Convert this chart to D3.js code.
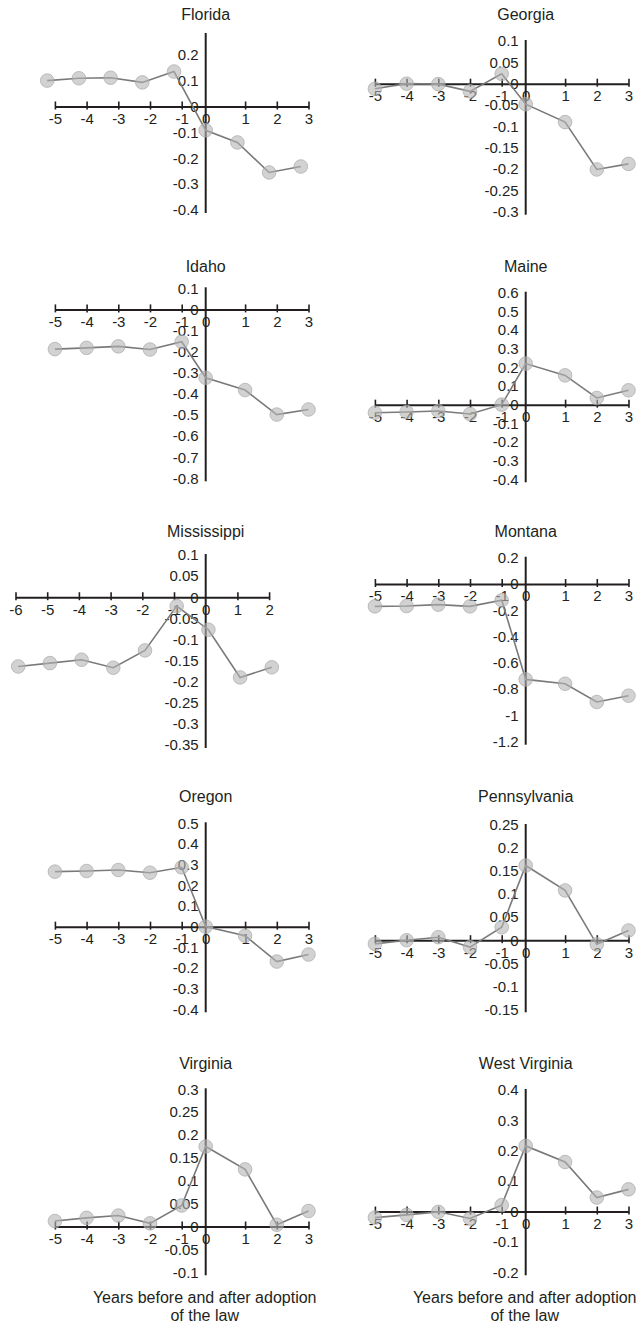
<!DOCTYPE html>
<html>
<head>
<meta charset="utf-8">
<script src="https://cdn.jsdelivr.net/npm/d3@7"></script>
<style>
  html, body { margin: 0; padding: 0; background: #ffffff; }
  svg { display: block; }
  text { font-family: "Liberation Sans", Arial, Helvetica, sans-serif; fill: #231f20; }
</style>
</head>
<body>
<script>
// ---------------- data ----------------
const states = ["Florida", "Georgia", "Idaho", "Maine", "Mississippi",
                "Montana", "Oregon", "Pennsylvania", "Virginia", "West Virginia"];

const yearsStandard = [-5, -4, -3, -2, -1, 0, 1, 2, 3];
const yearsMississippi = [-6, -5, -4, -3, -2, -1, 0, 1, 2];

const florida      = [0.100, 0.109, 0.111, 0.093, 0.135, -0.092, -0.139, -0.255, -0.232];
const georgia      = [-0.012, 0.000, -0.001, -0.018, 0.023, -0.048, -0.090, -0.201, -0.188];
const idaho        = [-0.188, -0.182, -0.175, -0.190, -0.153, -0.324, -0.382, -0.498, -0.474];
const maine        = [-0.043, -0.039, -0.034, -0.050, 0.000, 0.220, 0.157, 0.036, 0.077];
const mississippi  = [-0.164, -0.156, -0.148, -0.167, -0.126, -0.021, -0.077, -0.190, -0.166];
const montana      = [-0.170, -0.168, -0.157, -0.170, -0.124, -0.726, -0.759, -0.898, -0.850];
const oregon       = [0.266, 0.269, 0.274, 0.261, 0.287, 0.000, -0.044, -0.169, -0.135];
const pennsylvania = [-0.008, 0.000, 0.0065, -0.015, 0.028, 0.162, 0.108, -0.009, 0.021];
const virginia     = [0.012, 0.019, 0.024, 0.007, 0.046, 0.175, 0.125, 0.004, 0.034];
const westVirginia = [-0.020, -0.011, -0.001, -0.023, 0.021, 0.216, 0.163, 0.046, 0.073];

const floridaTicks      = [0.2, 0.1, 0, -0.1, -0.2, -0.3, -0.4];
const georgiaTicks      = [0.1, 0.05, 0, -0.05, -0.1, -0.15, -0.2, -0.25, -0.3];
const idahoTicks        = [0.1, 0, -0.1, -0.2, -0.3, -0.4, -0.5, -0.6, -0.7, -0.8];
const maineTicks        = [0.6, 0.5, 0.4, 0.3, 0.2, 0.1, 0, -0.1, -0.2, -0.3, -0.4];
const mississippiTicks  = [0.1, 0.05, 0, -0.05, -0.1, -0.15, -0.2, -0.25, -0.3, -0.35];
const montanaTicks      = [0.2, 0, -0.2, -0.4, -0.6, -0.8, -1, -1.2];
const oregonTicks       = [0.5, 0.4, 0.3, 0.2, 0.1, 0, -0.1, -0.2, -0.3, -0.4];
const pennsylvaniaTicks = [0.25, 0.2, 0.15, 0.1, 0.05, 0, -0.05, -0.1, -0.15];
const virginiaTicks     = [0.3, 0.25, 0.2, 0.15, 0.1, 0.05, 0, -0.05, -0.1];
const westVirginiaTicks = [0.4, 0.3, 0.2, 0.1, 0, -0.1, -0.2];

// top of each vertical axis (value); Florida's axis runs a little above its last label
const yTopValues = [0.28, 0.1, 0.1, 0.6, 0.1, 0.2, 0.5, 0.25, 0.3, 0.4];

const xAxisTitle = ["Years before and after adoption", "of the law"];

// ---------------- layout (pixels) ----------------
const W = 640, H = 1325;
const axisXByCol = [205.7, 525.7];
const unit = 31.7;
const plotTop    = [34, 41, 288.3, 292.7, 555, 557.7, 823.3, 825, 1089.3, 1090];
const plotBottom = [210, 211.7, 478.3, 479.3, 745, 741.7, 1009.3, 1009.3, 1272.3, 1272.3];
const titleBaseline = [20, 272.3, 537.3, 802.3, 1069.3];
// how the markers sit against the tick grid in the original figure
const markerUniformGrid = [true, false, false, false, true, false, false, false, false, false];
const markerNudge = [0, 0, 0, 0, 2.7, 0, 0, 0, 0, 0];
const ink = "#231f20";

const panels = [
  { name: states[0], years: yearsStandard,    values: florida,      ticks: floridaTicks },
  { name: states[1], years: yearsStandard,    values: georgia,      ticks: georgiaTicks },
  { name: states[2], years: yearsStandard,    values: idaho,        ticks: idahoTicks },
  { name: states[3], years: yearsStandard,    values: maine,        ticks: maineTicks },
  { name: states[4], years: yearsMississippi, values: mississippi,  ticks: mississippiTicks },
  { name: states[5], years: yearsStandard,    values: montana,      ticks: montanaTicks },
  { name: states[6], years: yearsStandard,    values: oregon,       ticks: oregonTicks },
  { name: states[7], years: yearsStandard,    values: pennsylvania, ticks: pennsylvaniaTicks },
  { name: states[8], years: yearsStandard,    values: virginia,     ticks: virginiaTicks },
  { name: states[9], years: yearsStandard,    values: westVirginia, ticks: westVirginiaTicks }
];

const svg = d3.select("body").append("svg")
  .attr("width", W).attr("height", H)
  .attr("viewBox", `0 0 ${W} ${H}`);

panels.forEach((p, i) => {
  const col = i % 2, row = Math.floor(i / 2);
  const ax = axisXByCol[col];
  const first = p.years[0], last = p.years[p.years.length - 1];
  // in the standard panels the vertical axis sits a little left of the uniform "0" position
  const shift = first === -6 ? 0 : 7.7;

  const x = d3.scaleLinear()
    .domain([first, -1, 0, 1, last])
    .range([ax + shift + first * unit, ax + shift - unit, ax, ax + shift + unit, ax + shift + last * unit]);

  const xm = markerUniformGrid[i]
    ? d3.scaleLinear().domain([first, last]).range([ax + first * unit + markerNudge[i], ax + last * unit + markerNudge[i]])
    : x;

  const yMin = d3.min(p.ticks);
  const yMax = yTopValues[i];
  const y = d3.scaleLinear().domain([yMin, yMax]).range([plotBottom[i], plotTop[i]]);

  const g = svg.append("g").attr("class", "panel");

  // title
  g.append("text")
    .attr("x", ax).attr("y", titleBaseline[row])
    .attr("text-anchor", "middle")
    .style("font-size", "16px")
    .text(p.name);

  // vertical axis
  const yAxis = d3.axisLeft(y).tickValues(p.ticks).tickSize(0).tickPadding(7)
    .tickFormat(d => String(+d.toFixed(2)));
  const gy = g.append("g").attr("transform", `translate(${ax},0)`).call(yAxis);
  gy.select(".domain").remove();
  gy.selectAll("text")
    .attr("fill", ink)
    .style("font-size", "15px")
    .style("font-family", "'Liberation Sans', Arial, sans-serif");
  g.append("line")
    .attr("x1", ax).attr("x2", ax)
    .attr("y1", y(yMax) - 1).attr("y2", y(yMin) + 3)
    .attr("stroke", ink).attr("stroke-width", 2);

  // horizontal axis at y = 0
  const y0 = y(0);
  const xAxis = d3.axisBottom(x).tickValues(p.years).tickSizeOuter(0).tickSizeInner(0)
    .tickFormat(d => String(d));
  const gx = g.append("g").attr("transform", `translate(0,${y0})`).call(xAxis);
  gx.select(".domain").attr("stroke", ink).attr("stroke-width", 2);
  gx.selectAll(".tick line")
    .attr("y1", -5).attr("y2", 3)
    .attr("stroke", ink).attr("stroke-width", 1.6)
    .filter(d => d === 0).remove();
  gx.selectAll(".tick text")
    .attr("y", 17.5).attr("dy", 0)
    .attr("fill", ink)
    .style("font-size", "15px")
    .style("font-family", "'Liberation Sans', Arial, sans-serif");

  // series line
  const pts = p.years.map((yr, k) => [yr, p.values[k]]);
  g.append("path")
    .datum(pts)
    .attr("fill", "none")
    .attr("stroke", "#7a7a7a")
    .attr("stroke-width", 1.6)
    .attr("d", d3.line().x(d => xm(d[0])).y(d => y(d[1])));

  // markers
  g.selectAll("circle.pt").data(pts).join("circle")
    .attr("class", "pt")
    .attr("cx", d => xm(d[0])).attr("cy", d => y(d[1]))
    .attr("r", 6.8)
    .attr("fill", "#b4b4b4").attr("fill-opacity", 0.6)
    .attr("stroke", "#a8a8a8").attr("stroke-opacity", 0.7).attr("stroke-width", 1);

  // x-axis caption on bottom row
  if (row === 4) {
    xAxisTitle.forEach((t, k) => {
      g.append("text")
        .attr("x", ax - 1).attr("y", 1303.3 + k * 17.5)
        .attr("text-anchor", "middle")
        .style("font-size", "16px")
        .text(t);
    });
  }
});
</script>
</body>
</html>
